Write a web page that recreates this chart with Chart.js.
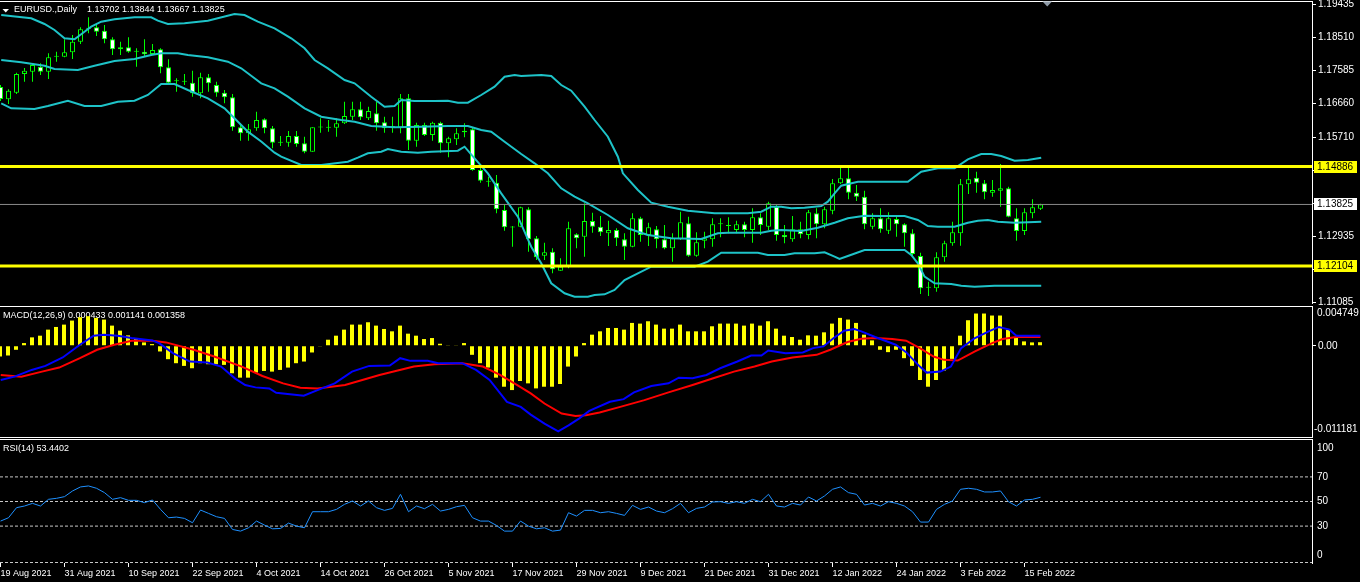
<!DOCTYPE html>
<html><head><meta charset="utf-8">
<script src="https://cdn.jsdelivr.net/npm/chart.js"></script>
<style>
html,body{margin:0;padding:0;background:#000;width:1360px;height:582px;overflow:hidden}
.wrap{position:absolute;left:0;width:1360px}
canvas{display:block}
</style></head><body>
<div class="wrap" style="top:0;height:305px"><canvas id="c1"></canvas></div>
<div class="wrap" style="top:305px;height:133px"><canvas id="c2"></canvas></div>
<div class="wrap" style="top:438px;height:144px"><canvas id="c3"></canvas></div>
<script>
// ---------------- DATA ----------------
const symbolTitle = 'EURUSD.,Daily';
const titleOHLC = [1.13702, 1.13844, 1.13667, 1.13825];
const dateLabels = ['19 Aug 2021','31 Aug 2021','10 Sep 2021','22 Sep 2021','4 Oct 2021','14 Oct 2021','26 Oct 2021','5 Nov 2021','17 Nov 2021','29 Nov 2021','9 Dec 2021','21 Dec 2021','31 Dec 2021','12 Jan 2022','24 Jan 2022','3 Feb 2022','15 Feb 2022'];
const dateBars = [0,8,16,24,32,40,48,56,64,72,80,88,96,104,112,120,128];
const priceTicks = [1.19435,1.18510,1.17585,1.16660,1.15710,1.14785,1.13860,1.12935,1.12010,1.11085];
const levelHigh = 1.14886;
const levelLow = 1.12104;
const bidPrice = 1.13825;

const open = [1.17114,1.16770,1.16954,1.17478,1.17542,1.17682,1.17542,1.17962,1.17962,1.18086,
1.18382,1.18746,1.18786,1.18690,1.18450,1.18170,1.18226,1.18102,1.18102,1.18038,
1.18170,1.17666,1.17282,1.17262,1.17234,1.16938,1.17386,1.17170,1.16954,1.16826,
1.15986,1.15818,1.15958,1.16210,1.15958,1.15554,1.15554,1.15742,1.15538,1.15302,
1.15986,1.15986,1.15974,1.16098,1.16282,1.16490,1.16238,1.16378,1.16126,1.15966,
1.15958,1.16798,1.15610,1.16050,1.15770,1.16114,1.15538,1.15650,1.15846,1.15930,
1.14790,1.14474,1.14434,1.13670,1.13186,1.13202,1.13690,1.12878,1.12390,1.12502,
1.11970,1.12082,1.12990,1.12922,1.13362,1.13202,1.13018,1.13110,1.12850,1.12642,
1.13438,1.12970,1.13130,1.12850,1.12598,1.12850,1.13298,1.12390,1.12810,1.12850,
1.13270,1.13242,1.13110,1.13270,1.13110,1.13466,1.13202,1.13762,1.12970,1.12850,
1.13130,1.12970,1.13578,1.13270,1.13650,1.14418,1.14558,1.14154,1.14042,1.13202,
1.13438,1.13090,1.13418,1.13270,1.13018,1.12382,1.11506,1.11478,1.12346,1.12738,
1.13018,1.14390,1.14574,1.14418,1.14154,1.14210,1.14278,1.13438,1.13082,1.13578,
1.13702];
const high = [1.17170,1.17050,1.17514,1.17646,1.17778,1.17778,1.18058,1.18102,1.18450,1.18570,
1.18786,1.19066,1.18850,1.18850,1.18506,1.18382,1.18506,1.18198,1.18450,1.18318,
1.18198,1.17890,1.17358,1.17478,1.17570,1.17514,1.17478,1.17262,1.17030,1.16918,
1.16098,1.16078,1.16422,1.16238,1.16022,1.15742,1.15882,1.15882,1.15722,1.15990,
1.16238,1.16190,1.16238,1.16702,1.16702,1.16702,1.16562,1.16702,1.16282,1.16282,
1.16918,1.16918,1.16114,1.16114,1.16142,1.16142,1.15722,1.15958,1.16098,1.15986,
1.14902,1.14602,1.14650,1.13838,1.13222,1.13762,1.13746,1.12942,1.12754,1.12598,
1.12318,1.13342,1.13018,1.13858,1.13594,1.13502,1.13370,1.13158,1.13018,1.13578,
1.13482,1.13314,1.13222,1.13250,1.13018,1.13622,1.13482,1.13046,1.13062,1.13438,
1.13438,1.13466,1.13370,1.13342,1.13718,1.13578,1.13902,1.13810,1.13250,1.13502,
1.13342,1.13670,1.13718,1.13762,1.14538,1.14882,1.14882,1.14370,1.14210,1.13578,
1.13718,1.13606,1.13482,1.13298,1.13130,1.12474,1.11662,1.12486,1.12810,1.13342,
1.14538,1.14854,1.14742,1.14510,1.14510,1.14958,1.14322,1.13718,1.13718,1.13970,
1.13844];
const low = [1.16722,1.16638,1.16918,1.17262,1.17262,1.17450,1.17338,1.17822,1.17946,1.17898,
1.18318,1.18618,1.18542,1.18338,1.18010,1.18010,1.18074,1.17682,1.17962,1.18010,
1.17498,1.17218,1.16982,1.17170,1.16842,1.16798,1.16982,1.16842,1.16658,1.15890,
1.15610,1.15610,1.15890,1.15818,1.15398,1.15462,1.15442,1.15442,1.15258,1.15298,
1.15834,1.15862,1.15722,1.16078,1.16190,1.16190,1.16190,1.15890,1.15834,1.15834,
1.15818,1.15350,1.15442,1.15742,1.15610,1.15274,1.15146,1.15490,1.15706,1.14770,
1.14434,1.14322,1.13578,1.13090,1.12642,1.13186,1.12502,1.12270,1.12270,1.11898,
1.11966,1.12038,1.12598,1.12362,1.13034,1.12942,1.12662,1.12662,1.12270,1.12626,
1.12782,1.12662,1.12598,1.12570,1.12222,1.12830,1.12362,1.12362,1.12598,1.12642,
1.12906,1.13018,1.13018,1.12906,1.12754,1.12970,1.13110,1.12810,1.12738,1.12782,
1.12878,1.12850,1.12878,1.13158,1.13550,1.14398,1.13970,1.13922,1.13130,1.13130,
1.13034,1.12998,1.12922,1.12642,1.12362,1.11318,1.11262,1.11382,1.12222,1.12670,
1.12670,1.14118,1.14154,1.13970,1.14042,1.13762,1.13466,1.12810,1.12970,1.13438,
1.13667];
const close = [1.16778,1.17010,1.17478,1.17570,1.17730,1.17542,1.17946,1.17958,1.18086,1.18382,
1.18730,1.18758,1.18662,1.18450,1.18170,1.18226,1.18102,1.18114,1.18030,1.18150,
1.17666,1.17234,1.17278,1.17274,1.16938,1.17386,1.17218,1.16954,1.16826,1.15986,
1.15818,1.15930,1.16190,1.15958,1.15554,1.15550,1.15742,1.15518,1.15302,1.15986,
1.15982,1.15974,1.16098,1.16302,1.16490,1.16266,1.16442,1.16098,1.15958,1.16022,
1.16798,1.15610,1.16050,1.15770,1.16114,1.15538,1.15678,1.15818,1.15890,1.14790,
1.14490,1.14462,1.13690,1.13186,1.13182,1.13746,1.12850,1.12346,1.12486,1.12010,
1.12082,1.13158,1.12878,1.13362,1.13202,1.13046,1.13110,1.12878,1.12642,1.13438,
1.12970,1.13186,1.12850,1.12598,1.12878,1.13326,1.12390,1.12766,1.12878,1.13270,
1.13286,1.13222,1.13270,1.13110,1.13466,1.13250,1.13858,1.12970,1.12906,1.13130,
1.12990,1.13606,1.13270,1.13690,1.14418,1.14558,1.14154,1.14042,1.13270,1.13438,
1.13130,1.13438,1.13270,1.13018,1.12438,1.11478,1.11494,1.12346,1.12738,1.13046,
1.14390,1.14530,1.14434,1.14166,1.14230,1.14278,1.13482,1.13082,1.13606,1.13746,
1.13825];

// Bollinger bands read at [bar, price]
const bbUpper = [[0.09,1.19130],[3.84,1.19037],[5.5,1.18878],[6.75,1.18710],[8.0,1.18477],[9.25,1.18449],[10.5,1.18663],[11.34,1.18803],[12.59,1.18943],[14.25,1.19009],[16.75,1.19065],[18.84,1.19065],[19.67,1.18971],[20.92,1.18878],[23.0,1.18897],[25.92,1.18971],[29.25,1.19158],[30.5,1.19130],[32.17,1.18943],
[34.26,1.18757],[36.34,1.18477],[38.01,1.18197],[39.26,1.17870],[40.92,1.17637],[43.01,1.17310],[44.26,1.17217],[46.34,1.16843],[48.01,1.16563],[49.26,1.16582],[50.09,1.16750],[51.76,1.16722],[54.26,1.16722],[55.92,1.16731],[57.17,1.16675],[58.42,1.16675],[60.09,1.16890],[61.76,1.17123],[63.01,1.17403],[64.26,1.17450],
[65.09,1.17422],[67.59,1.17450],[68.84,1.17422],[70.09,1.17170],[71.34,1.17011],[73.01,1.16563],[74.26,1.16190],[75.92,1.15723],[77.17,1.15163],[77.8,1.14697],[79.67,1.14230],[81.34,1.13875],[83.42,1.13763],[85.92,1.13651],[89.26,1.13577],[93.42,1.13577],[95.09,1.13623],[96.34,1.13763],[97.59,1.13763],
[98.84,1.13717],[100.51,1.13735],[102.59,1.13782],[103.42,1.13903],[104.26,1.14137],[105.09,1.14351],[107.17,1.14463],[113.42,1.14463],[115.09,1.14743],[117.17,1.14837],[119.26,1.14837],[120.92,1.15089],[122.59,1.15238],[123.84,1.15238],[125.09,1.15182],[126.76,1.15051],[128.42,1.15070],[130.09,1.15135]];
const bbMiddle = [[0.09,1.17870],[2.59,1.17805],[5.5,1.17711],[6.75,1.17618],[9.67,1.17590],[11.75,1.17711],[14.25,1.17842],[16.75,1.17898],[18.84,1.18010],[20.09,1.18057],[22.17,1.18057],[23.42,1.18010],[25.92,1.17945],[28.42,1.17823],[30.09,1.17637],[31.75,1.17357],
[32.59,1.17217],[34.26,1.17077],[35.92,1.16843],[38.01,1.16517],[40.09,1.16283],[42.59,1.16190],[44.26,1.16143],[46.34,1.16022],[49.26,1.15985],[52.59,1.16003],[55.92,1.16022],[58.42,1.16022],[60.09,1.15910],[61.34,1.15863],[63.01,1.15583],[65.09,1.15238],
[66.76,1.14977],[68.42,1.14697],[70.09,1.14277],[71.76,1.14043],[73.42,1.13857],[75.92,1.13530],[78.42,1.13157],[80.92,1.12970],[83.84,1.12877],[87.59,1.12858],[89.67,1.13017],[90.92,1.13035],[95.09,1.13035],[96.34,1.13091],[97.59,1.13110],
[100.09,1.13082],[102.17,1.13175],[104.26,1.13315],[105.92,1.13437],[108.01,1.13511],[110.09,1.13502],[113.01,1.13502],[114.67,1.13390],[115.92,1.13222],[117.17,1.13203],[119.26,1.13203],[120.92,1.13315],[122.17,1.13371],[123.42,1.13390],[124.67,1.13343],[126.76,1.13315],[130.09,1.13343]];
const bbLower = [[0.09,1.16657],[1.34,1.16517],[4.25,1.16498],[5.92,1.16582],[8.42,1.16731],[10.5,1.16582],[12.59,1.16582],[14.67,1.16703],[16.75,1.16731],[18.42,1.16890],[20.09,1.17198],[21.75,1.17198],[23.42,1.17030],[25.92,1.16797],[28.0,1.16517],[29.25,1.16237],[30.92,1.15863],[32.59,1.15590],
[34.26,1.15275],[35.09,1.15163],[37.59,1.14930],[40.09,1.14930],[43.42,1.15023],[44.67,1.15135],[45.92,1.15257],[47.59,1.15303],[48.42,1.15378],[50.09,1.15303],[52.17,1.15275],[53.84,1.15303],[57.17,1.15331],[58.01,1.15443],[59.26,1.15117],[60.92,1.14697],[62.59,1.14137],[64.67,1.13483],[66.34,1.12643],
[67.59,1.12177],[68.84,1.11617],[70.51,1.11337],[71.76,1.11243],[73.42,1.11243],[74.26,1.11290],[75.51,1.11309],[76.76,1.11430],[78.01,1.11710],[79.67,1.11897],[81.34,1.12083],[86.76,1.12083],[88.42,1.12223],[90.09,1.12475],[94.67,1.12475],[95.92,1.12410],[98.01,1.12410],
[99.26,1.12457],[101.76,1.12457],[103.01,1.12485],[104.26,1.12363],[104.88,1.12298],[105.92,1.12382],[108.01,1.12550],[113.01,1.12550],[113.84,1.12410],[114.67,1.12177],[115.51,1.11803],[116.76,1.11617],[118.84,1.11598],[120.09,1.11551],[121.76,1.11523],[124.26,1.11551],[130.09,1.11551]];

// MACD
const macdLabel = 'MACD(12,26,9)';
const macdLabelValues = [0.000433, 0.001141, 0.001358];
const macdScaleMax = 0.004749;
const macdScaleMin = -0.011181;
const macdHist = [-0.001316,-0.001193,-0.000494,0.000329,0.001029,0.001234,0.001975,0.002304,0.002592,0.003086,
0.003497,0.003620,0.003415,0.003209,0.002468,0.001851,0.001275,0.000946,0.000411,0.000206,
-0.000699,-0.001646,-0.002139,-0.002468,-0.002756,-0.002139,-0.002263,-0.002263,-0.002345,-0.003373,
-0.003908,-0.003908,-0.003291,-0.003086,-0.003168,-0.002962,-0.002674,-0.002139,-0.001934,-0.000823,
-0.000040,0.000740,0.001234,0.001975,0.002592,0.002592,0.002880,0.002468,0.002057,0.001769,
0.002468,0.001481,0.001234,0.000823,0.000946,0.000247,0.000040,0.000080,0.000329,-0.001111,
-0.002139,-0.002674,-0.003908,-0.005019,-0.005430,-0.004320,-0.004608,-0.005225,-0.005019,-0.005019,
-0.004690,-0.002551,-0.001316,0.000329,0.001358,0.001769,0.002180,0.002180,0.001975,0.002798,
0.002715,0.003003,0.002592,0.002098,0.002098,0.002592,0.001769,0.001769,0.001769,0.002386,
0.002715,0.002715,0.002715,0.002468,0.002715,0.002468,0.003003,0.002098,0.001234,0.001070,
0.000740,0.001275,0.001234,0.001646,0.002715,0.003415,0.003209,0.002798,0.001358,0.000658,
-0.000494,-0.000782,-0.000494,-0.001522,-0.002468,-0.004196,-0.005019,-0.004196,-0.003044,-0.001604,
0.001234,0.003127,0.003949,0.003949,0.003703,0.003703,0.001975,0.000946,0.000535,0.000411,
0.000433];
const macdBlue = [[0.09,-0.004196],[1.81,-0.003785],[3.96,-0.002962],[5.68,-0.002468],[7.84,-0.001440],[9.99,0.000123],[11.71,0.001234],[13.0,0.001358],[14.72,0.001234],[16.45,0.000946],[19.03,0.000658],[19.89,0.000329],[21.61,-0.000905],[23.76,-0.001934],[25.92,-0.002057],[27.64,-0.002551],[29.36,-0.003991],[30.65,-0.004813],[31.94,-0.005101],[33.66,-0.005225],[34.53,-0.005760],[37.97,-0.006130],[39.69,-0.005430],[41.84,-0.004608],[44.0,-0.003168],[46.15,-0.002468],[48.73,-0.002427],[50.02,-0.001522],[51.3,-0.001851],[53.47,-0.001851],[54.76,-0.002139],[57.77,-0.002139],[59.5,-0.002962],[61.2,-0.004196],[63.37,-0.006870],[65.09,-0.007487],[66.34,-0.008434],
[68.06,-0.009544],[69.78,-0.010491],[71.07,-0.009750],[72.37,-0.008927],[73.66,-0.007981],[76.24,-0.006870],[77.96,-0.006541],[79.25,-0.005718],[81.41,-0.004937],[83.56,-0.004608],[84.85,-0.003908],[86.57,-0.003991],[88.3,-0.003579],[90.02,-0.002756],[92.17,-0.001934],[93.89,-0.001193],[95.18,-0.001193],[96.04,-0.000576],[98.2,-0.000905],[100.35,-0.000823],[101.64,-0.000288],[102.93,-0.000082],[104.22,0.000946],[105.51,0.001851],[106.8,0.002057],[107.67,0.001769],[109.39,0.001070],[111.97,0.000123],[113.26,-0.000782],[114.98,-0.002551],[115.84,-0.003291],[117.57,-0.003168],[118.86,-0.002551],[120.15,-0.000288],[121.87,0.000946],[123.59,0.001769],[124.88,0.002304],[126.18,0.001975],[127.04,0.001234],[130.05,0.001234]];
const macdRed = [[0.09,-0.003579],[2.67,-0.003785],[5.25,-0.003168],[7.4,-0.002674],[9.99,-0.001522],[12.14,-0.000494],[14.29,0.000123],[16.45,0.000617],[19.03,0.000617],[20.75,0.000411],[24.2,-0.000494],[26.78,-0.001316],[30.22,-0.002551],[32.8,-0.003703],[35.39,-0.004608],[37.54,-0.005143],[39.69,-0.005225],[41.41,-0.005019],[43.13,-0.004813],[45.29,-0.004196],[47.44,-0.003579],[51.74,-0.002551],[54.33,-0.002263],[57.77,-0.002139],[60.35,-0.002551],[62.5,-0.003579],[64.66,-0.004813],[66.34,-0.005842],
[68.06,-0.007076],[70.21,-0.008310],[71.94,-0.008598],[73.23,-0.008516],[74.95,-0.008187],[77.53,-0.007487],[80.55,-0.006665],[83.56,-0.005718],[86.57,-0.004813],[89.16,-0.003991],[91.74,-0.003168],[94.32,-0.002551],[96.47,-0.001934],[99.06,-0.001440],[102.07,-0.001111],[103.79,-0.000494],[105.94,0.000453],[107.67,0.000864],[109.39,0.000946],[111.54,0.000823],[113.26,0.000617],[114.98,-0.000288],[116.7,-0.001316],[118.0,-0.001728],[119.72,-0.001810],[121.87,-0.000699],[124.02,0.000329],[125.32,0.000823],[127.04,0.001070],[130.05,0.001070]];

// RSI
const rsiLabel = 'RSI(14)';
const rsiLast = 53.4402;
const rsiLevels = [70, 50, 30];
const rsi = [34.08,36.80,44.97,46.33,48.50,46.33,51.77,52.58,53.95,58.57,
61.84,62.65,60.75,57.21,51.77,53.13,50.95,50.95,49.05,51.22,
43.61,36.80,37.35,36.26,32.72,43.06,40.34,37.62,36.26,27.28,
25.92,28.64,34.08,30.82,27.82,28.09,32.45,30.00,28.64,41.70,
41.70,41.70,43.61,47.69,50.41,46.33,50.41,44.97,42.79,44.42,
55.85,41.70,46.33,44.15,47.69,42.25,43.61,45.78,46.87,36.80,
34.08,34.08,30.55,25.92,25.92,34.08,30.00,27.82,28.64,25.92,
26.74,40.89,38.16,42.79,42.79,40.89,41.70,40.34,38.71,46.87,
43.61,45.51,42.25,40.89,44.15,48.50,40.89,44.42,45.51,49.59,
49.86,48.50,49.86,48.50,51.77,49.86,55.85,46.33,45.51,48.50,
47.14,53.67,50.41,54.49,59.93,61.84,57.21,55.85,47.14,48.50,
46.33,49.86,48.50,46.33,41.70,33.27,33.27,43.61,47.69,50.41,
59.93,60.75,59.93,57.76,57.76,58.57,49.86,46.33,51.22,51.77,
53.44];

// ---------------- STYLE ----------------
const FONT = '"Liberation Sans", Arial, sans-serif';
const C_CANDLE = '#00ff00', C_BEAR = '#ffffff', C_BULL = '#000000';
const C_BB = '#1ec3c8', C_LEVEL = '#ffff00', C_BID = '#8a8a8a';
const C_HIST = '#ffff00', C_BLUE = '#0000ff', C_RED = '#ff0000';
const C_RSI = '#1e90ff', C_DASH = '#c8c8c8';
const X_MIN = -0.0625, X_MAX = 163.9375;
const AXIS_W = 48;

Chart.defaults.font.family = FONT;
Chart.defaults.color = '#ffffff';
Chart.defaults.animation = false;

const idx = open.map((_, i) => i);
const pairs = arr => arr.map(([x, y]) => ({x, y}));
const hline = v => [{x: X_MIN, y: v}, {x: X_MAX, y: v}];
function lineDs(data, color, width, order, dash) {
  return {type: 'line', data, borderColor: color, borderWidth: width, pointRadius: 0,
    pointHoverRadius: 0, tension: 0, fill: false, order, borderDash: dash || [], parsing: true};
}
const fitRight = s => { s.width = AXIS_W; s.paddingTop = 0; s.paddingBottom = 0; };
const baseOpts = (padTop, padBottom) => ({
  responsive: true, maintainAspectRatio: false, devicePixelRatio: 1, animation: false, events: [],
  layout: {padding: {top: padTop, bottom: padBottom, left: 0, right: 0}},
  plugins: {legend: {display: false}, tooltip: {enabled: false}}
});

// ---------------- MAIN PRICE CHART ----------------
const mainOverlay = {
  id: 'mainOverlay',
  afterDraw(chart) {
    const ctx = chart.ctx, ys = chart.scales.y, R = chart.chartArea.right;
    ctx.save();
    ctx.fillStyle = '#ffffff';
    ctx.fillRect(0, 1, R + 1, 1);
    // title
    ctx.beginPath(); ctx.moveTo(2.5, 9); ctx.lineTo(9, 9); ctx.lineTo(5.75, 12.5); ctx.closePath(); ctx.fill();
    ctx.font = '9px ' + FONT; ctx.textBaseline = 'middle'; ctx.textAlign = 'left';
    ctx.fillText(symbolTitle, 14, 9.5);
    ctx.fillText(titleOHLC.map(v => v.toFixed(5)).join(' '), 87, 9.5);
    // chart shift marker
    ctx.fillStyle = '#8d99a6';
    ctx.beginPath(); ctx.moveTo(1042.5, 1.5); ctx.lineTo(1052, 1.5); ctx.lineTo(1047.25, 6.5); ctx.closePath(); ctx.fill();
    // price boxes
    ctx.font = '10px ' + FONT;
    [[levelHigh, C_LEVEL], [bidPrice, '#ffffff'], [levelLow, C_LEVEL]].forEach(([v, bg]) => {
      const py = Math.round(ys.getPixelForValue(v));
      ctx.fillStyle = bg; ctx.fillRect(R + 2, py - 6, 43, 12);
      ctx.fillStyle = '#000000'; ctx.fillText(v.toFixed(5), R + 5, py + 0.5);
    });
    ctx.restore();
  }
};

new Chart(document.getElementById('c1'), {
  type: 'bar',
  data: {datasets: [
    {label: 'wick', data: idx.map(i => ({x: i, y: [low[i], high[i]]})), backgroundColor: C_CANDLE,
      barThickness: 1, grouped: false, order: 9, inflateAmount: 0},
    {label: 'body', data: idx.map(i => ({x: i, y: [open[i], close[i]]})),
      backgroundColor: idx.map(i => close[i] < open[i] ? C_BEAR : C_BULL), borderColor: C_CANDLE,
      borderWidth: 1, borderSkipped: false, barThickness: 5, minBarLength: 1, grouped: false, order: 8, inflateAmount: 0},
    lineDs(pairs(bbUpper), C_BB, 2, 5),
    lineDs(pairs(bbMiddle), C_BB, 2, 5),
    lineDs(pairs(bbLower), C_BB, 2, 5),
    lineDs(hline(bidPrice), C_BID, 1, 4),
    lineDs(hline(levelHigh), C_LEVEL, 3, 2),
    lineDs(hline(levelLow), C_LEVEL, 3, 2)
  ]},
  options: Object.assign(baseOpts(2, 2), {
    scales: {
      x: {type: 'linear', min: X_MIN, max: X_MAX, display: false, offset: false, grid: {offset: false}},
      y: {type: 'linear', position: 'right', min: 1.11066, max: 1.19494, beginAtZero: false,
        afterFit: fitRight,
        afterBuildTicks: s => { s.ticks = priceTicks.map(v => ({value: v})); },
        ticks: {autoSkip: false, padding: 2, color: '#ffffff', font: {size: 10}, callback: v => Number(v).toFixed(5)},
        grid: {drawOnChartArea: false, color: '#ffffff', tickLength: 4, tickWidth: 1},
        border: {display: true, color: '#ffffff', width: 1}}
    }
  }),
  plugins: [mainOverlay]
});

// ---------------- MACD ----------------
const macdOverlay = {
  id: 'macdOverlay',
  beforeDatasetsDraw(chart) {
    const ctx = chart.ctx;
    ctx.save();
    ctx.font = '9px ' + FONT; ctx.fillStyle = '#ffffff'; ctx.textBaseline = 'middle'; ctx.textAlign = 'left';
    ctx.fillText(macdLabel + ' ' + macdLabelValues.map(v => v.toFixed(6)).join(' '), 3, 10.5);
    ctx.restore();
  },
  afterDraw(chart) {
    const ctx = chart.ctx, R = chart.chartArea.right;
    ctx.save();
    ctx.fillStyle = '#ffffff';
    ctx.fillRect(0, 1, R + 1, 1);
    ctx.fillRect(0, 132, R + 1, 1);
    ctx.font = '10px ' + FONT; ctx.textBaseline = 'middle'; ctx.textAlign = 'left';
    ctx.fillText(macdScaleMax.toFixed(6), R + 5, 8);
    ctx.fillText(macdScaleMin.toFixed(6), R + 2, 124);
    ctx.restore();
  }
};

new Chart(document.getElementById('c2'), {
  type: 'bar',
  data: {datasets: [
    {label: 'hist', data: idx.map(i => ({x: i, y: macdHist[i]})), backgroundColor: C_HIST,
      barThickness: 4, grouped: false, order: 5, inflateAmount: 0},
    lineDs(pairs(macdRed), C_RED, 2, 3),
    lineDs(pairs(macdBlue), C_BLUE, 2, 2)
  ]},
  options: Object.assign(baseOpts(2, 1), {
    scales: {
      x: {type: 'linear', min: 0, max: 164, display: false, offset: false, grid: {offset: false}},
      y: {type: 'linear', position: 'right', min: macdScaleMin, max: macdScaleMax, beginAtZero: false,
        afterFit: fitRight,
        afterBuildTicks: s => { s.ticks = [{value: 0}]; },
        ticks: {autoSkip: false, padding: 2, color: '#ffffff', font: {size: 10}, callback: v => Number(v).toFixed(2)},
        grid: {drawOnChartArea: false, color: '#ffffff', tickLength: 4, tickWidth: 1},
        border: {display: true, color: '#ffffff', width: 1}}
    }
  }),
  plugins: [macdOverlay]
});

// ---------------- RSI ----------------
const rsiOverlay = {
  id: 'rsiOverlay',
  beforeDatasetsDraw(chart) {
    const ctx = chart.ctx;
    ctx.save();
    ctx.font = '9px ' + FONT; ctx.fillStyle = '#ffffff'; ctx.textBaseline = 'middle'; ctx.textAlign = 'left';
    ctx.fillText(rsiLabel + ' ' + rsiLast.toFixed(4), 3, 10.5);
    ctx.restore();
  },
  afterDraw(chart) {
    const ctx = chart.ctx, R = chart.chartArea.right, B = chart.chartArea.bottom;
    ctx.save();
    ctx.fillStyle = '#ffffff';
    ctx.fillRect(0, 1, R + 1, 1);
    ctx.strokeStyle = C_DASH; ctx.lineWidth = 1; ctx.setLineDash([3, 2]);
    ctx.beginPath(); ctx.moveTo(0, B - 0.5); ctx.lineTo(R, B - 0.5); ctx.stroke();
    ctx.setLineDash([]);
    ctx.font = '10px ' + FONT; ctx.textBaseline = 'middle'; ctx.textAlign = 'left'; ctx.fillStyle = '#ffffff';
    ctx.fillText('100', R + 5, 10);
    ctx.fillText('0', R + 5, 117);
    ctx.restore();
  }
};

new Chart(document.getElementById('c3'), {
  type: 'line',
  data: {datasets: [
    ...rsiLevels.map(l => lineDs(hline(l), C_DASH, 1, 3, [3, 2])),
    lineDs(idx.map(i => ({x: i, y: rsi[i]})), C_RSI, 1, 1)
  ]},
  options: Object.assign(baseOpts(2, 0), {
    scales: {
      x: {type: 'linear', position: 'bottom', min: X_MIN, max: X_MAX, offset: false,
        afterFit: s => { s.height = 19; s.paddingLeft = 0; s.paddingRight = 0; },
        afterBuildTicks: s => { s.ticks = dateBars.map(v => ({value: v})); },
        ticks: {autoSkip: false, maxRotation: 0, minRotation: 0, align: 'start', padding: 1, color: '#ffffff',
          font: {size: 9}, callback: (v, i) => dateLabels[i]},
        grid: {drawOnChartArea: false, color: '#ffffff', tickLength: 4, tickWidth: 1, offset: false},
        border: {display: false}},
      y: {type: 'linear', position: 'right', min: 0, max: 100,
        afterFit: fitRight,
        afterBuildTicks: s => { s.ticks = rsiLevels.map(v => ({value: v})); },
        ticks: {autoSkip: false, padding: 5, color: '#ffffff', font: {size: 10}, callback: v => String(v)},
        grid: {drawOnChartArea: false, drawTicks: false},
        border: {display: true, color: '#ffffff', width: 1}}
    }
  }),
  plugins: [rsiOverlay]
});
</script>
</body></html>
